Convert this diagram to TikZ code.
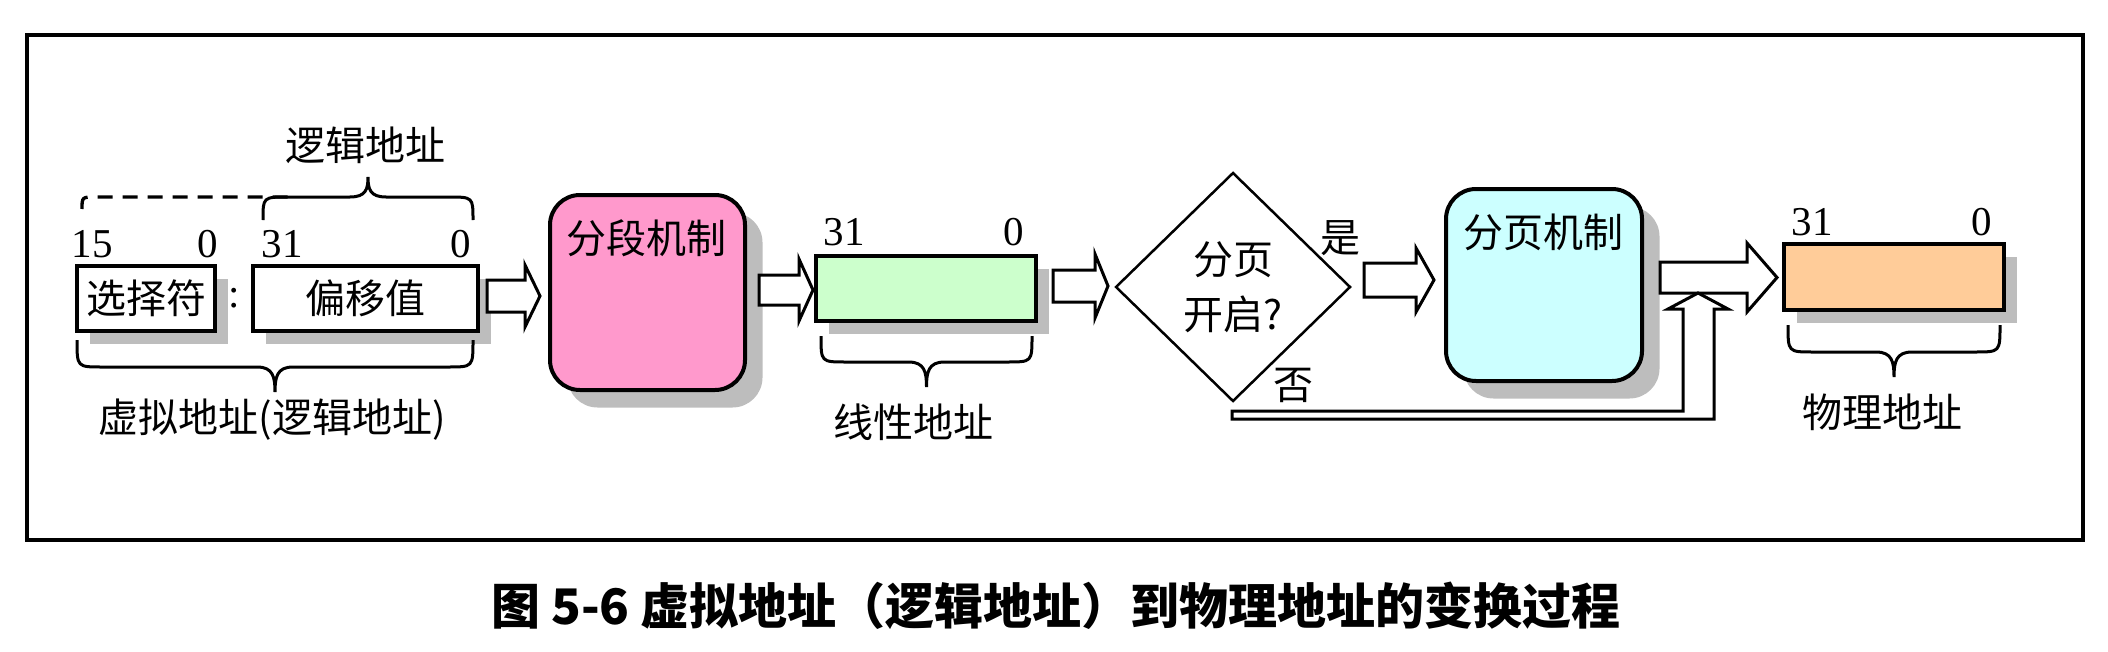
\documentclass[tikz,border=0pt]{standalone}
\usepackage{fontspec}
\setmainfont{Liberation Serif}
\newfontfamily\cjk{Noto Sans CJK SC}
\usetikzlibrary{shapes.geometric,shadows}
\definecolor{shadowgray}{HTML}{BDBDBD}
\definecolor{segpink}{HTML}{FF99CC}
\definecolor{linegreen}{HTML}{CCFFCC}
\definecolor{pagecyan}{HTML}{CCFFFF}
\definecolor{physorange}{HTML}{FFCC99}
\newcommand\mybrace[5]{%
 \draw[bracestyle] (#1,#3) .. controls (#1,#4) .. ({#1+25},#4) -- ({(#1+#2)/2-18},#4)
   .. controls ({(#1+#2)/2-2},#4) and ({(#1+#2)/2},{#4+0.4*(#5-#4)}) .. ({(#1+#2)/2},#5)
   .. controls ({(#1+#2)/2},{#4+0.4*(#5-#4)}) and ({(#1+#2)/2+2},#4) .. ({(#1+#2)/2+18},#4)
   -- ({#2-25},#4) .. controls (#2,#4) .. (#2,#3);}
\newcommand\hollowarrow[6]{%
 \draw[harrow] (#1,{#3-#4}) -- (#6,{#3-#4}) -- (#6,{#3-#5}) -- (#2,#3) -- (#6,{#3+#5}) -- (#6,{#3+#4}) -- (#1,{#3+#4}) -- cycle;}
\begin{document}
\begin{tikzpicture}[x=0.3pt,y=-0.3pt,
  cjktext/.style={font=\cjk\fontsize{12}{14}\selectfont, inner sep=0},
  numtext/.style={font=\fontsize{12.3}{14}\selectfont, inner sep=0},
  regbox/.style={draw, line width=1.2pt, inner sep=0,
    general shadow={fill=shadowgray, shadow xshift=3.9pt, shadow yshift=-3.9pt}},
  roundbox/.style={draw, line width=1.2pt, rounded corners=9pt, inner sep=0,
    general shadow={fill=shadowgray, shadow xshift=5.25pt, shadow yshift=-5.25pt}},
  harrow/.style={draw, fill=white, line width=0.9pt, line join=miter},
  bracestyle/.style={line width=0.9pt}]
\useasboundingbox (0,0) rectangle (2108,652);
% frame
\draw[line width=1.35pt] (27,35) rectangle (2083,540);
% virtual address
\node[regbox, fill=white, minimum width=138*0.3pt, minimum height=65*0.3pt, cjktext] (sel) at (146,298.5) {选择符};
\node[regbox, fill=white, minimum width=225*0.3pt, minimum height=65*0.3pt, cjktext] (off) at (365.5,298.5) {偏移值};
\node[numtext] (colon) at (234,298) {:};
\node[numtext] (n15) at (92,244) {15};
\node[numtext] (n0a) at (208,244) {0};
\node[numtext] (n31a) at (282,244) {31};
\node[numtext] (n0b) at (461,244) {0};
\draw[bracestyle, line width=1pt, dash pattern=on 4.5pt off 3pt] (82,209) .. controls (82,197) .. (96,197) -- (290,197);
\mybrace{263}{473}{220}{197}{177}
\node[cjktext] (logic) at (365,145) {逻辑地址};
\mybrace{77}{473}{340}{367}{392}
\node[cjktext] (virt) at (272,420) {虚拟地址(逻辑地址)};
\hollowarrow{487}{540}{296}{16}{31}{525}
% segmentation
\node[roundbox, fill=segpink, minimum width=195*0.3pt, minimum height=195*0.3pt] (seg) at (647.5,292.5) {};
\node[cjktext] (segl) at (646,238) {分段机制};
\hollowarrow{759}{813}{290}{15}{31}{799}
% linear address
\node[regbox, fill=linegreen, minimum width=220*0.3pt, minimum height=65*0.3pt] (lin) at (926,288.5) {};
\node[numtext] (n31b) at (844,232) {31};
\node[numtext] (n0c) at (1014,232) {0};
\mybrace{821}{1032}{336}{362}{387}
\node[cjktext] (linl) at (913,422) {线性地址};
\hollowarrow{1053}{1108}{286}{16}{32}{1095}
% decision
\node[diamond, draw, line width=0.75pt, minimum width=235*0.3pt, minimum height=229*0.3pt, inner sep=0,
  font=\cjk\fontsize{12}{16.5}\selectfont, align=center] (pg) at (1233,287) {分页\\开启?};
\node[cjktext] (yes) at (1340,238) {是};
\node[cjktext] (no) at (1293,385) {否};
\hollowarrow{1364}{1434}{280}{17}{32}{1416}
% paging
\node[roundbox, fill=pagecyan, minimum width=196*0.3pt, minimum height=192*0.3pt] (pag) at (1544,285) {};
\node[cjktext] (pagl) at (1543,232) {分页机制};
\hollowarrow{1660}{1777}{277.5}{15.5}{34.5}{1747}
\draw[harrow] (1232,411) -- (1683,411) -- (1683,309) -- (1668,309) -- (1698,293) -- (1728,309) -- (1714,309) -- (1714,419) -- (1232,419) -- cycle;
% physical address
\node[regbox, fill=physorange, minimum width=220*0.3pt, minimum height=66*0.3pt] (phy) at (1894,277) {};
\node[numtext] (n31c) at (1812,222) {31};
\node[numtext] (n0d) at (1982,222) {0};
\mybrace{1788}{2000}{325}{352}{377}
\node[cjktext] (phyl) at (1882,412) {物理地址};
% caption
\node[font=\cjk\bfseries\fontsize{14.7}{17}\selectfont, inner sep=0] (cap) at (1056,606) {图 5-6 虚拟地址（逻辑地址）到物理地址的变换过程};
\end{tikzpicture}
\end{document}
